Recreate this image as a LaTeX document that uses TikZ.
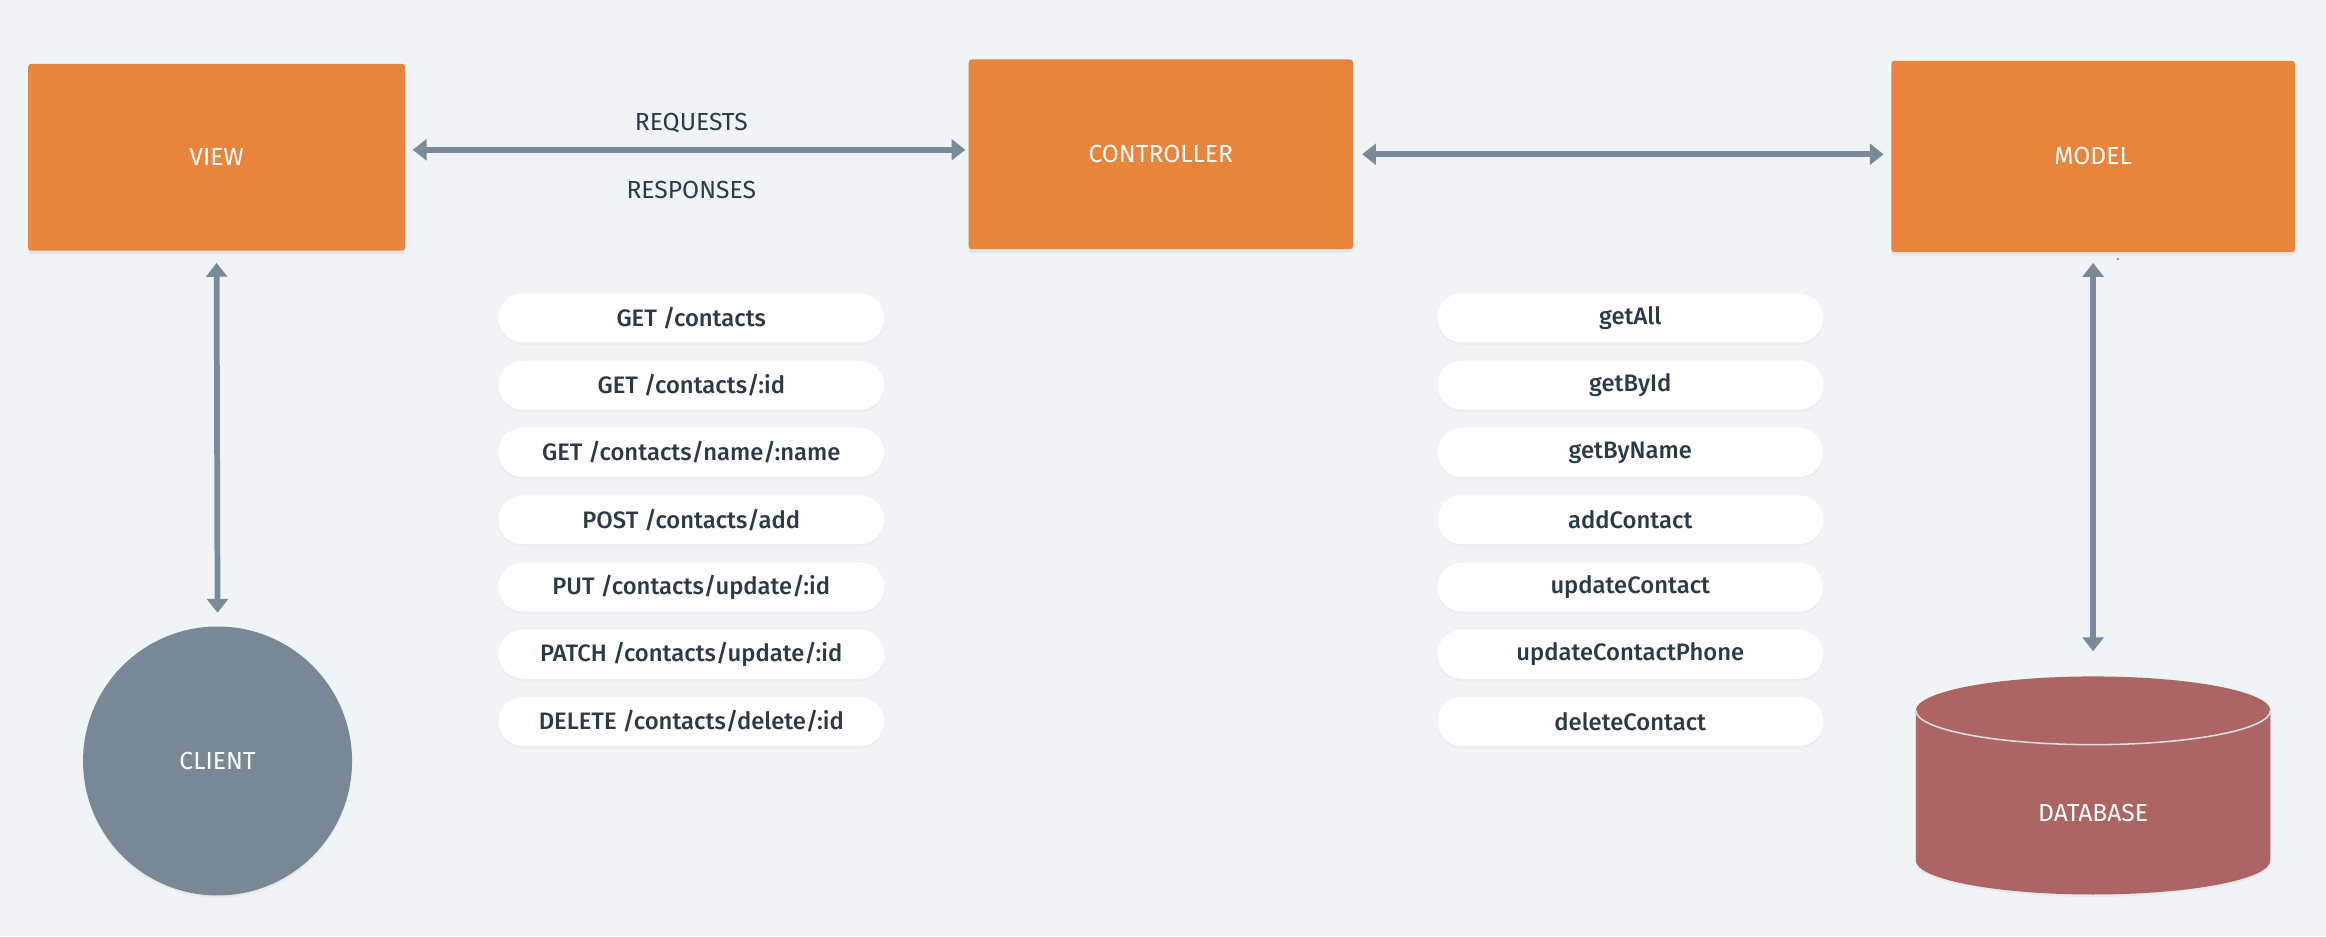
\documentclass[tikz,border=0pt]{standalone}
\usepackage{fontspec}
\setmainfont{Fira Sans}
\newfontfamily\medfont{Fira Sans}[UprightFont={* Medium}]
\usetikzlibrary{arrows.meta,shadows,positioning}

\definecolor{bgcol}{HTML}{F0F4F7}
\definecolor{boxorange}{HTML}{E8843B}
\definecolor{clientgray}{HTML}{798897}
\definecolor{dbred}{HTML}{AD6464}
\definecolor{dbline}{HTML}{D9DCE0}
\definecolor{arrowgray}{HTML}{7A8A98}
\definecolor{textdark}{HTML}{2C3A47}

\begin{document}
\begin{tikzpicture}[
    box/.style={fill=boxorange, text=white, minimum width=7.62cm, minimum height=3.78cm, rounded corners=0.06cm,
        drop shadow={shadow xshift=0cm, shadow yshift=-0.07cm, opacity=0.12}},
    client/.style={circle, fill=clientgray, text=white, minimum size=5.44cm,
        drop shadow={shadow xshift=0cm, shadow yshift=-0.05cm, opacity=0.08}},
    pill/.style={fill=white, text=textdark, minimum width=7.8cm, minimum height=0.99cm, rounded corners=0.49cm,
        font=\medfont\fontsize{13.7}{16}\selectfont,
        drop shadow={shadow xshift=0cm, shadow yshift=-0.05cm, opacity=0.05}},
    note/.style={text=textdark},
    link/.style={draw=arrowgray, line width=3.3pt, {Triangle[width=0.42cm,length=0.28cm]}-{Triangle[width=0.42cm,length=0.28cm]}},
    font=\fontsize{14.2}{16}\selectfont
]

% Background
\fill[bgcol] (0,0) rectangle (47.04,18.93);

% Layers
\node[box] (VIEW) at (4.38,15.75) {VIEW};
\node[box, minimum width=7.77cm, minimum height=3.84cm] (CONTROLLER) at (23.475,15.81) {CONTROLLER};
\node[box, minimum width=8.16cm, minimum height=3.87cm] (MODEL) at (42.33,15.765) {MODEL};

% Client
\node[client] (CLIENT) at (4.40,3.54) {CLIENT};

% Database
\fill[dbred, drop shadow={shadow xshift=0cm, shadow yshift=-0.05cm, opacity=0.08}]
    (38.745,4.56) -- (38.745,1.53) arc[start angle=180, end angle=360, x radius=3.585, y radius=0.69]
    -- (45.915,4.56) arc[start angle=0, end angle=180, x radius=3.585, y radius=0.69] -- cycle;
\draw[dbline, line width=0.9pt] (38.745,4.56) arc[start angle=180, end angle=360, x radius=3.585, y radius=0.69];
\node[text=white] (DB) at (42.33,2.49) {DATABASE};
\coordinate (DBtop) at (42.33,5.25);

% Labels
\node[note] (REQ) at (13.98,16.44) {REQUESTS};
\node[note] (RES) at (13.98,15.09) {RESPONSES};

% Endpoints
\foreach \ep [count=\i] in {GET /contacts, GET /contacts/:id, GET /contacts/name/:name, POST /contacts/add,
    PUT /contacts/update/:id, PATCH /contacts/update/:id, DELETE /contacts/delete/:id}
    \node[pill] (E\i) at (13.98,{12.5-1.3605*(\i-1)}) {\ep};

% Model functions
\foreach \fn [count=\i] in {getAll, getById, getByName, addContact, updateContact, updateContactPhone, deleteContact}
    \node[pill] (F\i) at (32.97,{12.5-1.3605*(\i-1)}) {\fn};

% Connections
\draw[link, shorten <=0.15cm, shorten >=0.06cm] ([yshift=0.15cm]VIEW.east) -- ([yshift=0.15cm]VIEW.east -| CONTROLLER.west);
\draw[link, shorten <=0.18cm, shorten >=0.15cm] (CONTROLLER.east) -- (CONTROLLER.east -| MODEL.west);
\draw[link, shorten <=0.24cm, shorten >=0.27cm] (VIEW.south) -- (CLIENT.north);
\draw[link, shorten <=0.21cm, shorten >=0.51cm] (MODEL.south) -- (DBtop);

% Dot
\fill[arrowgray] (42.83,13.69) circle (0.025);

\end{tikzpicture}
\end{document}
